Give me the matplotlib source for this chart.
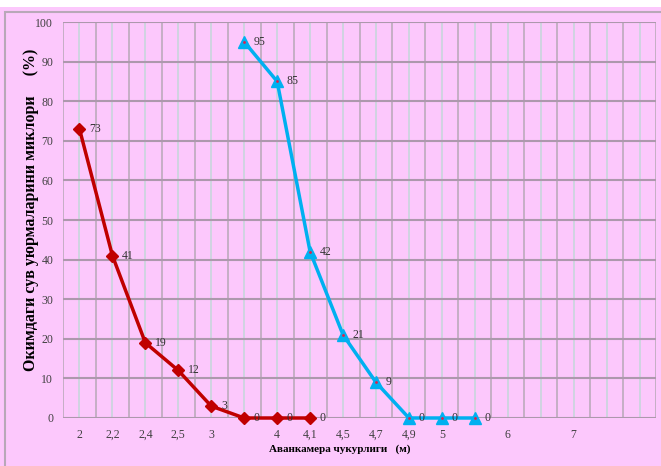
import matplotlib.pyplot as plt
from matplotlib.patches import Rectangle

# категориялар (x ўқи)
depth_labels = ["2", "2,2", "2,4", "2,5", "3", "", "4", "4,1", "4,5", "4,7",
                "4,9", "5", "", "6", "", "7", "", ""]

# қизил чизиқ
red_pos = [0, 1, 2, 3, 4, 5, 6, 7]
red_vals = [73, 41, 19, 12, 3, 0, 0, 0]

# ҳаво ранг чизиқ
blue_pos = [5, 6, 7, 8, 9, 10, 11, 12]
blue_vals = [95, 85, 42, 21, 9, 0, 0, 0]

bg = "#fcc8fc"
serif = ["Liberation Serif", "DejaVu Serif"]

fig = plt.figure(figsize=(6.61, 4.66), dpi=100, facecolor=bg)
# юқоридаги оқ йўлак ва чегара
fig.patches.append(Rectangle((0, 459 / 466), 1, 7 / 466, transform=fig.transFigure,
                             facecolor="white", edgecolor="none", zorder=0))
fig.patches.append(Rectangle((5 / 661, -0.05), 1.1, (454 / 466) + 0.05,
                             transform=fig.transFigure, facecolor="none",
                             edgecolor="#b8a8b8", linewidth=1.5, zorder=1))

ax = fig.add_axes([63 / 661, 48 / 466, 593 / 661, 396 / 466])
ax.set_facecolor(bg)

n = len(depth_labels)
ax.set_xlim(-0.5, n - 0.5)
ax.set_ylim(0, 100)

# тўр чизиқлари
for i in range(n + 1):
    ax.axvline(i - 0.5, color="#bcaabc", linewidth=1.2, zorder=1)
for i in range(n):
    ax.axvline(i, color="#c8d6dc", linewidth=1.2, zorder=1)
for y in range(0, 101, 10):
    ax.axhline(y, color="#ad98ad", linewidth=1.5, zorder=1)

for s in ax.spines.values():
    s.set_visible(False)

ax.set_xticks(range(n))
ax.set_xticklabels(depth_labels, fontsize=8.5, family=serif, color="#404040")
ax.set_yticks(range(0, 101, 10))
ax.set_yticklabels([str(v) for v in range(0, 101, 10)], fontsize=8.5,
                   family=serif, color="#404040")
ax.tick_params(axis="x", length=0, pad=8)
ax.tick_params(axis="y", length=0, pad=7)

ax.plot(red_pos, red_vals, color="#c00000", linewidth=2.5, marker="D",
        markersize=6.5, zorder=3, clip_on=False)
ax.plot(blue_pos, blue_vals, color="#00b0f0", linewidth=2.5, marker="^",
        markersize=8, markerfacecolor="#00b0f0", zorder=3, clip_on=False)
ax.plot(blue_pos, blue_vals, linestyle="none", marker=".", markersize=2,
        color="#e0204a", zorder=4, clip_on=False)

for x, v in zip(red_pos, red_vals):
    ax.annotate(str(v), (x, v), xytext=(7, 0), textcoords="offset points",
                fontsize=8.5, family=serif, color="#333333", va="center")
for x, v in zip(blue_pos, blue_vals):
    ax.annotate(str(v), (x, v), xytext=(7, 0), textcoords="offset points",
                fontsize=8.5, family=serif, color="#333333", va="center")

fig.text(340 / 661, 1 - 449 / 466, "Аванкамера чукурлиги   (м)", ha="center",
         va="center", fontsize=8, fontweight="bold", family=serif)
fig.text(31 / 661, 1 - 210 / 466, "Окимдаги сув уюрмаларини миклори     (%)",
         ha="center", va="center", rotation=90, fontsize=11.5,
         fontweight="bold", family=serif)

fig.savefig("out.png", dpi=100, facecolor=bg)
